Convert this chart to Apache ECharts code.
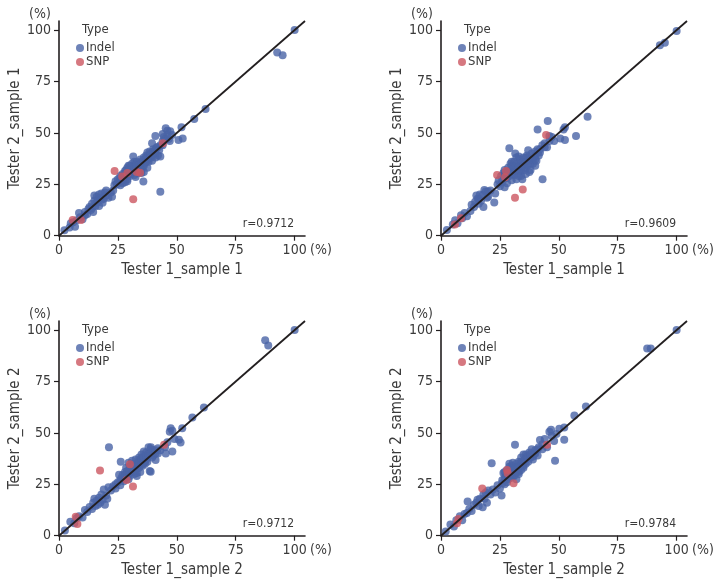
<!DOCTYPE html>
<html>
<head>
<meta charset="utf-8">
<script src="https://cdn.jsdelivr.net/npm/echarts@6/dist/echarts.min.js"></script>
<style>html,body{margin:0;padding:0;background:#fff;}#chart{width:717px;height:586px;}</style>
</head>
<body>
<div id="chart"></div>
<script>
// ---- data ----
const tickValues = [0, 25, 50, 75, 100];
const tickLabels = ['0', '25', '50', '75', '100'];
const axisMax = 104.4;
const diagLine = [[0, 0], [104.4, 104.4]];
const seriesNames = ['Indel', 'SNP'];
const xTitles = ['Tester 1_sample 1', 'Tester 1_sample 1', 'Tester 1_sample 2', 'Tester 1_sample 2'];
const yTitles = ['Tester 2_sample 1', 'Tester 2_sample 1', 'Tester 2_sample 2', 'Tester 2_sample 2'];
const rLabels = ['r=0.9712', 'r=0.9609', 'r=0.9712', 'r=0.9784'];

const p1Indel = [[2.3,2.6],[4.5,4],[6.8,4.3],[6,6.5],[5,6],[7.5,7.5],[8.5,11],[9,9],[10,8],[11,10],[11,11.5],[12,10.5],[12.5,13],[13,14],[13.5,12.5],[14,15.5],[14,13.5],[14.5,11.5],[15,17],[15,19.5],[15.5,14.5],[16,16],[16,19],[16.5,17.5],[17,14.5],[17,20],[17.5,18.5],[18,20.5],[18,17.5],[18.5,16],[19,18],[19.5,21],[20,19.5],[20,22],[21,18.5],[22,21],[22.5,19],[23,22],[23.5,24.5],[24,26.5],[24.5,25],[25,27.5],[25.5,26],[26,29],[26,24.5],[26,28],[26.5,27],[27,30],[27,25.5],[27,28.5],[27.5,28],[28,31.5],[28,26],[28,29],[28.5,29.5],[28.5,32],[29,33],[29,27.5],[29,29.5],[29,26.5],[29.5,31],[29.5,34],[30,34],[30,29],[30,31],[30,32.5],[30.5,32],[30.5,30],[31,35],[31,30.5],[31,32],[31.5,38.5],[31.5,33],[31.5,31],[32,31.5],[32,36],[32,33],[32,29.5],[32.5,34.5],[32.5,28.5],[33,36],[33,32],[33,33.5],[33,35],[33.5,30.5],[33.5,34],[34,35],[34,33],[34,34.5],[34.5,37],[34.5,31.5],[34.5,33],[35,32],[35,36],[35,35],[35,30.5],[35.5,34],[35.8,26.3],[36,38],[36,31],[36,36.5],[36,34],[36.5,35.5],[37,37.5],[37,36],[37,39],[37.5,33],[37.5,40.5],[38,39],[38,36],[38,37.5],[38.5,41],[39,38],[39,40],[39,39],[39.5,36.5],[39.5,45],[40,42],[40,39.5],[40,41],[40.9,48.5],[41,40],[41,42],[41,38],[41.5,43],[42,39],[42,43],[42.5,41.5],[43,44],[43,38.5],[43,21.4],[44,46],[44,44],[44,49.5],[44.5,48],[45,47],[45.3,52.2],[46,51],[46,49],[46.5,47],[47.2,50.8],[47,46],[48,49],[50.7,46.5],[52.5,47.3],[52,52.7],[57.4,56.7],[62.2,61.6],[92.6,89.1],[94.9,87.8],[100,100]];
const p1Snp = [[5.8,7.6],[9.3,7.6],[23.6,31.5],[26.8,28.8],[29,30.5],[31.5,17.7],[33,31],[34.4,30.6],[44.1,44.9]];

const p2Indel = [[2.5,2.8],[5,5.5],[6,7.5],[7,6],[8.5,10],[9,8.5],[10,11],[11,9.5],[12.5,12],[13,15],[14,14],[14.5,16.5],[15,19.5],[15.5,18],[16,15.5],[16,18],[16.5,20],[17,17],[17.7,19.8],[18,14],[18.4,22.2],[19,21.5],[19.5,18.5],[20,19],[20,21.5],[21,22],[22.6,16.1],[23,20.5],[24,25],[24.5,27],[25,24],[25.5,29],[26,26],[26,27.5],[26.5,30.5],[27,23.5],[27,29.5],[27,32],[27.5,28],[28,31],[28,25.5],[28,28],[28.5,33],[29,42.5],[29,29],[29,31],[29.5,32],[29.5,35],[30,27],[30,34],[30,30],[30,36],[30.5,31],[31,36],[31,29.5],[31,33.5],[31.5,33],[31.5,40],[32,31.5],[32,27.5],[32,34],[32,38],[32.5,35],[33,33.5],[33,29],[33,31],[33,38.5],[33.5,37],[34,31.5],[34,35],[34,33],[34,29],[34.5,27.5],[35,34],[35,38],[35,36],[35.5,32],[36,36],[36,30],[36,33],[36,38],[36.5,39],[37,34.5],[37,41.5],[37,38],[37.5,31],[38,37],[38,35],[38,32],[38.5,40],[39,35],[39,37],[39.5,38.5],[40,41],[40,34],[40,39],[40,37],[40.5,36.5],[41,51.7],[41,42],[41,40.5],[41.5,39],[42,40.5],[42,42],[43,44],[43.1,27.4],[44,43],[44,45],[45.3,55.8],[45,43],[46,48.5],[46,46],[47,48],[48,46],[50.6,47.3],[52,51.6],[52.6,52.7],[52.6,46.5],[57.3,48.5],[62.2,57.9],[92.9,92.6],[95,93.8],[100,99.5]];
const p2Snp = [[5.9,5.5],[8.5,8.5],[23.8,29.5],[27.2,28.4],[27.6,31.5],[31.4,18.5],[34.7,22.5],[44.6,49]];

const p3Indel = [[2.5,2.5],[4.8,6.8],[6.5,6],[7.5,8.5],[8.5,9.5],[10,8.8],[11,12.5],[12,11.5],[13,14],[14,13],[14.5,16],[15,18],[15.5,14.5],[16,17],[16.5,15],[17,18.5],[17.5,16],[18,20],[18.5,17.5],[19,22.5],[19.5,15],[20,19.5],[20.5,18],[21,23.5],[21.2,43],[22,22],[23,24],[24,23],[24,25],[25,26],[25.5,29.6],[26,24.5],[26,27],[26.2,36],[26.5,28],[27,29.5],[27,27.5],[27.5,26.5],[28,31],[28,28],[28,29.5],[28.5,33],[29,30],[29,31.5],[29,28.5],[29.5,27.5],[29.5,35.5],[30,32],[30,29],[30,30.5],[30,33.5],[30.5,34],[31,31],[31,36.5],[31,32.5],[31.5,33],[32,30],[32,35],[32,33],[32,31.5],[32.5,37],[33,32.5],[33,29],[33,34],[33,30.5],[33.5,35],[34,33],[34,38],[34,35.5],[34,36.5],[34.5,31],[35,36],[35,39.5],[35,34.5],[35,37.5],[35.5,34],[36,37],[36,41],[36,38.5],[36,35.5],[36.5,35],[37,39],[37,37],[37,40.5],[37.5,36],[38,40],[38,43],[38,38.5],[38.5,31.5],[38.9,31.1],[39,42],[39,40],[39,43],[39.5,38],[40,41.5],[40,39],[41,36.8],[41,40],[41,41.5],[42,42.5],[42,40],[43,41.5],[45,43],[45.3,40],[46,45.5],[47,50.5],[47.4,52.3],[48.1,51],[48.1,40.9],[49,47],[50.9,46.6],[51.6,45.3],[52.3,52.3],[56.6,57.5],[61.5,62.3],[87.5,95],[88.8,92.5],[100,100]];
const p3Snp = [[7.1,9.2],[7.8,5.7],[17.4,31.7],[28.7,27.1],[30.1,34.8],[31.4,23.9],[44.6,44.2]];

const p4Indel = [[2,2],[4,5.5],[5.5,4.5],[6.5,7.5],[8,9.5],[9,7.5],[10,10.5],[11.3,16.6],[11,11],[12,13],[13,12],[14,15],[15,16],[15.5,17.5],[16,14.5],[16.5,18],[17.7,13.8],[18,20],[18.5,18],[19,21],[19.5,16],[20,22],[21,20],[21.5,35.2],[22,22.5],[23,21],[24,24.5],[25,23],[25.7,19.5],[26,27],[26,25.5],[26.5,30.5],[27,25],[27,28],[27,31],[27.5,29],[28,32],[28,29.5],[28,26],[28.5,27.5],[29,30],[29,33.5],[29,31.5],[29,35],[29.5,28],[30,31.5],[30,34],[30,30],[30,33],[30.5,29],[30.5,35.5],[31,33],[31,32],[31,29],[31.4,44.2],[31.5,30.5],[32,35],[32,27.5],[32,31],[32,33.5],[32.5,33],[33,31],[33,36],[33,33.5],[33,30],[33.5,34],[34,32],[34,38],[34,34.5],[34,36],[34.5,35.5],[35,33],[35,39.5],[35,35.5],[35,34],[35.5,37],[36,35],[36,37],[36,39.5],[36.5,38.5],[37,36],[37,38],[37.5,40.5],[38,38],[38,39.5],[38.5,42],[39,37],[39,38.5],[39.5,40],[40,41.5],[40,40],[41,39],[41,42],[41.5,43],[42,46.5],[43,42],[43,44.5],[44,47],[45,43],[46,50.5],[46.7,51.5],[47,48.5],[48,46],[48.4,36.4],[49,49.5],[50.2,52],[52.3,52.6],[52.3,46.6],[56.6,58.4],[61.5,62.8],[87.5,91],[89,91],[100,100]];
const p4Snp = [[6.8,6],[7.4,8.1],[17.5,23],[28.3,30.4],[28,32],[30.8,25.5],[45,44.2]];

const indelSets = [p1Indel, p2Indel, p3Indel, p4Indel];
const snpSets = [p1Snp, p2Snp, p3Snp, p4Snp];

// ---- layout / style ----
const FONT = "'Liberation Sans Narrow', 'DejaVu Sans Condensed', 'Roboto', sans-serif";
const AXIS_COLOR = '#231f20';
const TEXT_COLOR = '#3a3a3a';
const COLORS = {Indel: '#4a64a6', SNP: '#cc5660'};
const gridPos = [
  {left: 59, top: 21, width: 246, height: 214.7},
  {left: 441, top: 21, width: 246, height: 214.7},
  {left: 59, top: 321, width: 246, height: 214.7},
  {left: 441, top: 321, width: 246, height: 214.7}
];

const chart = echarts.init(document.getElementById('chart'), null, {renderer: 'canvas'});

const labelFmt = v => { const i = tickValues.indexOf(v); return i >= 0 ? tickLabels[i] : ''; };

const grids = [], xAxes = [], yAxes = [], series = [], legends = [], graphics = [];
gridPos.forEach((g, i) => {
  grids.push({left: g.left, top: g.top, width: g.width, height: g.height, containLabel: false});
  const common = {
    type: 'value', min: 0, max: axisMax, interval: 25, gridIndex: i,
    splitLine: {show: false},
    axisLine: {show: true, lineStyle: {color: AXIS_COLOR, width: 1.6}},
    axisTick: {show: true, length: 5, lineStyle: {color: AXIS_COLOR, width: 1.2}, customValues: tickValues},
    nameLocation: 'middle',
    nameTextStyle: {fontFamily: FONT, fontSize: 15, color: TEXT_COLOR}
  };
  xAxes.push(Object.assign({}, common, {
    name: xTitles[i], nameGap: 27,
    axisLabel: {fontFamily: FONT, fontSize: 14, color: TEXT_COLOR, margin: 8, customValues: tickValues, formatter: labelFmt}
  }));
  yAxes.push(Object.assign({}, common, {
    name: yTitles[i], nameGap: 35,
    axisLabel: {fontFamily: FONT, fontSize: 14, color: TEXT_COLOR, margin: 8, customValues: tickValues, formatter: labelFmt}
  }));
  series.push({
    name: 'Indel', type: 'scatter', xAxisIndex: i, yAxisIndex: i, data: indelSets[i],
    symbol: 'circle', symbolSize: 8, itemStyle: {color: COLORS.Indel}, z: 2, silent: true
  });
  series.push({
    name: 'SNP', type: 'scatter', xAxisIndex: i, yAxisIndex: i, data: snpSets[i],
    symbol: 'circle', symbolSize: 8, itemStyle: {color: COLORS.SNP}, z: 3, silent: true
  });
  series.push({
    name: 'diag', type: 'line', xAxisIndex: i, yAxisIndex: i, data: diagLine,
    symbol: 'none', lineStyle: {color: AXIS_COLOR, width: 1.8}, z: 5, silent: true, animation: false
  });
  legends.push({
    data: seriesNames, orient: 'vertical', left: g.left + 12, top: g.top + 15,
    icon: 'circle', itemWidth: 8, itemHeight: 8, itemGap: 0, selectedMode: false,
    textStyle: {fontFamily: FONT, fontSize: 13, color: TEXT_COLOR, lineHeight: 14, padding: [0, 0, 0, -3]}
  });
  graphics.push({
    type: 'text', left: g.left + 23, top: g.top + 2,
    style: {text: 'Type', font: '13px ' + FONT, fill: TEXT_COLOR}
  });
  graphics.push({
    type: 'text', x: g.left - 19, y: g.top - 7,
    style: {text: '(%)', font: '14px ' + FONT, fill: TEXT_COLOR, align: 'center', verticalAlign: 'middle'}
  });
  graphics.push({
    type: 'text', x: g.left + g.width + 5, y: g.top + g.height + 15,
    style: {text: '(%)', font: '14px ' + FONT, fill: TEXT_COLOR, align: 'left', verticalAlign: 'middle'}
  });
  graphics.push({
    type: 'text', x: g.left + 235, y: g.top + g.height - 12,
    style: {text: rLabels[i], font: '12px ' + FONT, fill: TEXT_COLOR, align: 'right', verticalAlign: 'middle'}
  });
});

chart.setOption({
  animation: false,
  color: [COLORS.Indel, COLORS.SNP],
  grid: grids, xAxis: xAxes, yAxis: yAxes, series: series, legend: legends,
  graphic: graphics
});
</script>
</body>
</html>
